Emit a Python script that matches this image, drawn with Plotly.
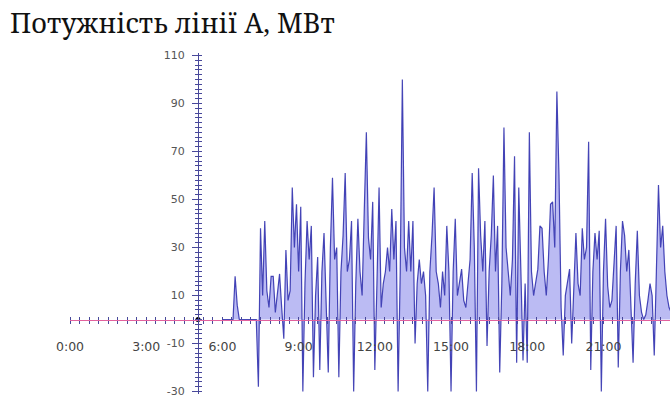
import plotly.graph_objects as go

# ---- data -------------------------------------------------------------
TITLE = "Потужність лінії А, МВт"
START_HOUR = 6.0          # first sample at 6:00
STEP_MIN = 5              # sampling step, minutes
power_mw = [
    0, 0, 0, 0, 0, 0, 18, 6, 0, 0,
    0, 0, 0, 0, 0, 0, 0, -28, 38, 10,
    41, 12, 5, 18, 18, 3, 10, 19, 5, -8,
    29, 8, 12, 55, 30, 48, 20, 47, -30, 15,
    41, 25, 39, -24, 10, 26, -21, 20, 36, 10,
    -22, 30, 59, 25, 30, -24, 20, 35, 61, 20,
    25, 41, -30, 15, 42, 20, 10, 45, 78, 34,
    25, 49, -21, 15, 55, 5, 15, 20, 30, 20,
    46, 25, 41, -30, 20, 100, 30, 20, 41, 20,
    41, -10, 15, 25, 15, 20, 10, -30, 20, 35,
    55, 20, 15, 5, 20, 10, 39, 20, -30, 20,
    42, 10, 15, 21, 8, 5, 15, 25, 61, 30,
    -30, 63, 35, 20, 41, -11, 20, 35, 60, 20,
    39, -22, 15, 80, 30, 20, 10, 25, 68, -18,
    55, 20, -17, 15, -18, 78, 20, 10, 15, 21,
    39, 38, 20, 10, 25, 48, 49, 30, 95, 60,
    5, -15, 10, 15, 21, -10, 12, 36, 15, 10,
    38, 25, 30, 74, -21, 20, 36, 25, 37, -30,
    20, 42, 14, 5, 8, 25, 39, -20, 20, 41,
    35, 20, 29, 5, -18, 15, 37, 10, 3, 0,
    2, 8, 15, 10, -15, 20, 56, 30, 39, 20,
    10, 5, 3,
]
hours = [START_HOUR + i * STEP_MIN / 60 for i in range(len(power_mw))]

x_tick_vals = [0, 3, 6, 9, 12, 15, 18, 21]
x_tick_text = ["0:00", "3:00", "6:00", "9:00", "12:00", "15:00", "18:00", "21:00"]
y_tick_vals = [-30, -10, 10, 30, 50, 70, 90, 110]
y_tick_text = ["-30", "-10", "10", "30", "50", "70", "90", "110"]

X_MAX = 23.62             # right edge of the visible time range, h
Y_MIN, Y_MAX = -31, 111
Y_AXIS_AT_HOUR = 5.04     # where the vertical axis crosses the time axis

# ---- styles -----------------------------------------------------------
PINK = "#e2629e"
AXIS_BLUE = "#48489a"
x_pos = (0 - Y_MIN) / (Y_MAX - Y_MIN)
y_pos = Y_AXIS_AT_HOUR / X_MAX

fig = go.Figure()
fig.add_trace(go.Scatter(
    x=hours, y=power_mw, mode="lines",
    line=dict(color="rgba(40,40,170,0.85)", width=1.2),
    fill="tozeroy", fillcolor="rgba(120,120,232,0.5)",
    showlegend=False, hoverinfo="x+y",
))
fig.add_trace(go.Scatter(
    x=[Y_AXIS_AT_HOUR], y=[0], mode="markers",
    marker=dict(color="black", size=5), showlegend=False, hoverinfo="skip",
))
# helper trace so the overlay axes (tick crosses) are drawn
fig.add_trace(go.Scatter(x=[None], y=[None], xaxis="x2", yaxis="y2",
                         showlegend=False, hoverinfo="skip"))

fig.update_layout(
    width=670, height=402,
    margin=dict(l=70, r=0, t=53, b=8),
    paper_bgcolor="white", plot_bgcolor="white",
    title=dict(text=TITLE, x=0.015, xref="container", xanchor="left",
               y=1 - 24 / 402, yref="container", yanchor="middle",
               font=dict(family="Noto Serif, DejaVu Serif, serif",
                         size=27, color="#111")),
    xaxis=dict(
        range=[0, X_MAX], anchor="free", position=x_pos,
        showline=True, linecolor=PINK, linewidth=1,
        showgrid=False, zeroline=False,
        tickmode="array", tickvals=x_tick_vals, ticktext=x_tick_text,
        ticks="", ticklabelstandoff=15,
        tickfont=dict(family="DejaVu Sans", size=12.5, color="#444"),
        minor=dict(ticks="outside", tickmode="linear", tick0=0, dtick=0.375,
                   ticklen=3, tickcolor=AXIS_BLUE, showgrid=False),
        layer="above traces",
    ),
    yaxis=dict(
        range=[Y_MIN, Y_MAX], anchor="free", position=y_pos,
        showline=True, linecolor=AXIS_BLUE, linewidth=1,
        showgrid=False, zeroline=False,
        tickmode="array", tickvals=y_tick_vals, ticktext=y_tick_text,
        ticks="outside", ticklen=6, tickcolor=AXIS_BLUE, ticklabelstandoff=5,
        tickfont=dict(family="DejaVu Sans", size=11, color="#555"),
        minor=dict(ticks="outside", tickmode="linear", tick0=0, dtick=2,
                   ticklen=3, tickcolor=AXIS_BLUE, showgrid=False),
        layer="above traces",
    ),
    xaxis2=dict(
        range=[0, X_MAX], overlaying="x", anchor="free", position=x_pos,
        showline=False, showgrid=False, zeroline=False, showticklabels=False,
        tickmode="array", tickvals=x_tick_vals, ticks="",
        minor=dict(ticks="inside", tickmode="linear", tick0=0, dtick=0.375,
                   ticklen=3, tickcolor=AXIS_BLUE, showgrid=False),
        layer="above traces",
    ),
    yaxis2=dict(
        range=[Y_MIN, Y_MAX], overlaying="y", anchor="free", position=y_pos,
        showline=False, showgrid=False, zeroline=False, showticklabels=False,
        tickmode="array", tickvals=y_tick_vals,
        ticks="inside", ticklen=3, tickcolor=AXIS_BLUE,
        minor=dict(ticks="inside", tickmode="linear", tick0=0, dtick=2,
                   ticklen=3, tickcolor=AXIS_BLUE, showgrid=False),
        layer="above traces",
    ),
)

# the page's default 8px body margin would shift the whole chart
fig.write_html("out.html", config={"displayModeBar": False},
               post_script="document.body.style.margin='0';")
